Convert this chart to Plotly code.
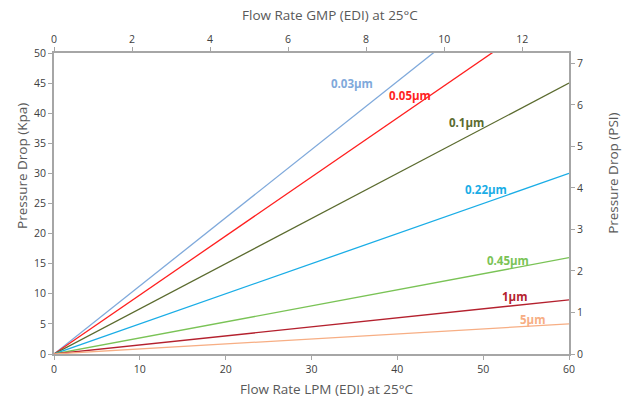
import plotly.graph_objects as go

# Data (flow rate LPM vs pressure drop kPa), linear through origin
flow_lpm = [0, 60]
series_names = ["0.03µm", "0.05µm", "0.1µm", "0.22µm", "0.45µm", "1µm", "5µm"]
series_kpa = [
    [0, 67.9],
    [0, 58.8],
    [0, 45.0],
    [0, 30.0],
    [0, 16.0],
    [0, 9.0],
    [0, 5.0],
]
colors = ["#7FA9DB", "#FF1F1F", "#5B6B2F", "#1AADE6", "#7AC356", "#B4212E", "#F7AE84"]
# label anchor positions (LPM, kPa)
label_x = [34.7, 41.5, 48.0, 50.3, 52.9, 53.6, 55.7]
label_y = [45.0, 43.0, 38.5, 27.4, 15.6, 9.6, 5.8]

gpm_ticks = [0, 2, 4, 6, 8, 10, 12]
psi_ticks = [0, 1, 2, 3, 4, 5, 6, 7]

x_title_bottom = "Flow Rate LPM (EDI) at 25°C"
x_title_top = "Flow Rate GMP (EDI) at 25°C"
y_title_left = "Pressure Drop (Kpa)"
y_title_right = "Pressure Drop (PSI)"

fig = go.Figure()
for name, ys, c in zip(series_names, series_kpa, colors):
    fig.add_trace(go.Scatter(x=flow_lpm, y=ys, mode="lines", name=name,
                             line=dict(color=c, width=1.3), hoverinfo="skip"))
# invisible trace to activate secondary axes
fig.add_trace(go.Scatter(x=[0], y=[0], xaxis="x2", yaxis="y2", mode="markers",
                         marker=dict(opacity=0), showlegend=False, hoverinfo="skip"))

for name, lx, ly, c in zip(series_names, label_x, label_y, colors):
    fig.add_annotation(x=lx, y=ly, text="<b>" + name + "</b>", showarrow=False,
                       font=dict(color=c, size=11.5, family="Open Sans"),
                       xanchor="center", yanchor="middle")

axis_font = dict(family="Open Sans", size=10.5, color="#404040")
title_font = dict(family="Open Sans", size=13.5, color="#595959")
line_col = "#A6A6A6"

# axis titles as annotations (paper coords)
fig.add_annotation(x=0.530, y=-0.116, xref="paper", yref="paper", text=x_title_bottom,
                   showarrow=False, font=title_font, xanchor="center", yanchor="middle")
fig.add_annotation(x=0.536, y=1.126, xref="paper", yref="paper", text=x_title_top,
                   showarrow=False, font=title_font, xanchor="center", yanchor="middle")
fig.add_annotation(x=-0.062, y=0.625, xref="paper", yref="paper", text=y_title_left,
                   showarrow=False, font=title_font, xanchor="center", yanchor="middle",
                   textangle=-90)
fig.add_annotation(x=1.085, y=0.601, xref="paper", yref="paper", text=y_title_right,
                   showarrow=False, font=title_font, xanchor="center", yanchor="middle",
                   textangle=-90)

common = dict(showgrid=False, zeroline=False, showline=True, linecolor=line_col, linewidth=2,
              ticks="outside", ticklen=4, tickcolor=line_col, tickwidth=1,
              tickfont=axis_font, automargin=False)

fig.update_layout(
    width=627, height=398,
    margin=dict(l=54, r=58, t=53, b=44),
    paper_bgcolor="white", plot_bgcolor="white",
    showlegend=False,
    xaxis=dict(range=[0, 60], tickvals=[0, 10, 20, 30, 40, 50, 60], **common),
    xaxis2=dict(range=[0, 13.2], tickvals=gpm_ticks, overlaying="x", side="top", **common),
    yaxis=dict(range=[0, 50], tickvals=[0, 5, 10, 15, 20, 25, 30, 35, 40, 45, 50], **common),
    yaxis2=dict(range=[0, 50 / 6.895], tickvals=psi_ticks, overlaying="y", side="right", **common),
)

fig.write_html("out.html")
